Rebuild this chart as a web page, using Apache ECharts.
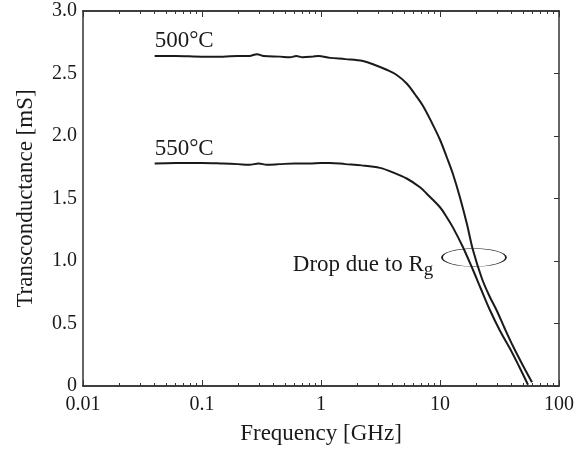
<!DOCTYPE html>
<html>
<head>
<meta charset="utf-8">
<script src="https://cdn.jsdelivr.net/npm/echarts@6/dist/echarts.min.js"></script>
<style>
html, body { margin: 0; padding: 0; background: #fff; }
#chart { width: 588px; height: 450px; }
</style>
</head>
<body>
<div id="chart"></div>
<script>
// frequency [GHz] / transconductance [mS]
var freq500 = [0.04, 0.06, 0.1, 0.15, 0.2, 0.25, 0.29, 0.33, 0.45, 0.55, 0.62, 0.7, 0.85, 0.95, 1.19, 1.6, 2.25, 2.8, 3.56, 4.3, 5.25, 6.2, 7.2, 8.5, 10, 11.4, 12.9, 14.7, 16.9, 18.9, 22.5, 26, 30.1, 35, 41, 50, 59.3];
var gm500   = [2.64, 2.64, 2.635, 2.635, 2.64, 2.64, 2.655, 2.64, 2.635, 2.63, 2.64, 2.63, 2.635, 2.64, 2.625, 2.615, 2.6, 2.57, 2.53, 2.49, 2.42, 2.33, 2.24, 2.11, 1.97, 1.83, 1.69, 1.51, 1.29, 1.09, 0.86, 0.72, 0.6, 0.46, 0.32, 0.16, 0.03];

var freq550 = [0.04, 0.06, 0.1, 0.15, 0.2, 0.25, 0.3, 0.35, 0.45, 0.6, 0.8, 1.0, 1.19, 1.6, 2.2, 3.13, 4.0, 5.25, 6.79, 7.7, 10, 11.4, 12.9, 15.6, 18.9, 22, 26.2, 32, 38.7, 46, 54.9];
var gm550   = [1.78, 1.785, 1.785, 1.78, 1.775, 1.77, 1.78, 1.77, 1.775, 1.78, 1.78, 1.785, 1.785, 1.775, 1.765, 1.745, 1.71, 1.66, 1.59, 1.54, 1.43, 1.35, 1.265, 1.11, 0.93, 0.78, 0.61, 0.44, 0.3, 0.16, 0.01];

var xMajor = [0.01, 0.1, 1, 10, 100];
var decades = [0.01, 0.1, 1, 10];
var mults = [2, 3, 4, 5, 6, 7, 8, 9];

var xMinor = [];
decades.forEach(function(d) {
    mults.forEach(function(m) { xMinor.push(m * d); });
});

function pairs(xs, ys) {
    return xs.map(function(x, i) { return [x, ys[i]]; });
}

var FONT = 'Liberation Serif';
var INK = '#1a1a1a';
var frame = { show: true, lineStyle: { color: '#333', width: 1.5 } };

function xAxisDef(pos, minor) {
    return {
        type: 'log', logBase: 10, min: 0.01, max: 100, position: pos,
        axisLine: frame,
        splitLine: { show: false },
        axisTick: { show: true, inside: true, length: minor ? 3 : 6,
            customValues: minor ? xMinor : xMajor,
            lineStyle: { color: '#333', width: 1 } },
        axisLabel: { show: false }
    };
}

var chart = echarts.init(document.getElementById('chart'));

var bottomX = xAxisDef('bottom', false);
bottomX.axisLabel = {
    show: true, customValues: xMajor, margin: 9,
    fontFamily: FONT, fontSize: 20, color: INK,
    formatter: function(v) { return String(+v.toPrecision(3)); }
};
bottomX.name = 'Frequency [GHz]';
bottomX.nameLocation = 'middle';
bottomX.nameGap = 36;
bottomX.nameTextStyle = { fontFamily: FONT, fontSize: 23, color: INK };

var option = {
    animation: false,
    backgroundColor: '#fff',
    grid: { left: 83, right: 29, top: 11, bottom: 63, containLabel: false },
    xAxis: [bottomX, xAxisDef('bottom', true), xAxisDef('top', false), xAxisDef('top', true)],
    yAxis: [
        {
            type: 'value', min: 0, max: 3, interval: 0.5, position: 'left',
            axisLine: frame,
            splitLine: { show: false },
            axisTick: { show: false },
            axisLabel: {
                margin: 6, fontFamily: FONT, fontSize: 20, color: INK,
                formatter: function(v) { return v === 0 ? '0' : v.toFixed(1); }
            },
            name: 'Transconductance [mS]',
            nameLocation: 'middle',
            nameGap: 46,
            nameTextStyle: { fontFamily: FONT, fontSize: 23, color: INK }
        },
        {
            type: 'value', min: 0, max: 3, interval: 0.5, position: 'right',
            axisLine: frame,
            splitLine: { show: false },
            axisTick: { show: true, inside: true, length: 5, lineStyle: { color: '#333', width: 1 } },
            axisLabel: { show: false }
        }
    ],
    series: [
        {
            name: '500°C', type: 'line', xAxisIndex: 0, yAxisIndex: 0,
            data: pairs(freq500, gm500), showSymbol: false, smooth: 0.35,
            lineStyle: { color: INK, width: 2 }
        },
        {
            name: '550°C', type: 'line', xAxisIndex: 0, yAxisIndex: 0,
            data: pairs(freq550, gm550), showSymbol: false, smooth: 0.35,
            lineStyle: { color: INK, width: 2 }
        }
    ]
};
chart.setOption(option);

// annotations placed in data coordinates
function px(f, v) {
    return chart.convertToPixel({ xAxisIndex: 0, yAxisIndex: 0 }, [f, v]);
}
var p500 = px(0.04, 2.76);
var p550 = px(0.04, 1.896);
var pDrop = px(0.58, 0.97);
var pEll = px(19.3, 1.028);

var txt = { fontFamily: FONT, fontSize: 23, fill: INK, verticalAlign: 'middle', align: 'left' };

chart.setOption({
    graphic: [
        { type: 'text', x: p500[0], y: p500[1], style: Object.assign({ text: '500°C' }, txt) },
        { type: 'text', x: p550[0], y: p550[1], style: Object.assign({ text: '550°C' }, txt) },
        {
            type: 'text', x: pDrop[0], y: pDrop[1],
            style: Object.assign({
                text: 'Drop due to R{g|g}',
                rich: { g: { fontFamily: FONT, fontSize: 19, fill: INK, padding: [10, 0, 0, 0] } }
            }, txt)
        },
        {
            type: 'circle', x: pEll[0], y: pEll[1], scaleY: 9 / 32,
            shape: { cx: 0, cy: 0, r: 32 },
            style: { fill: 'none', stroke: INK, lineWidth: 1.8, strokeNoScale: true }
        }
    ]
});

window.onresize = function() {
    chart.resize();
};
</script>
</body>
</html>
